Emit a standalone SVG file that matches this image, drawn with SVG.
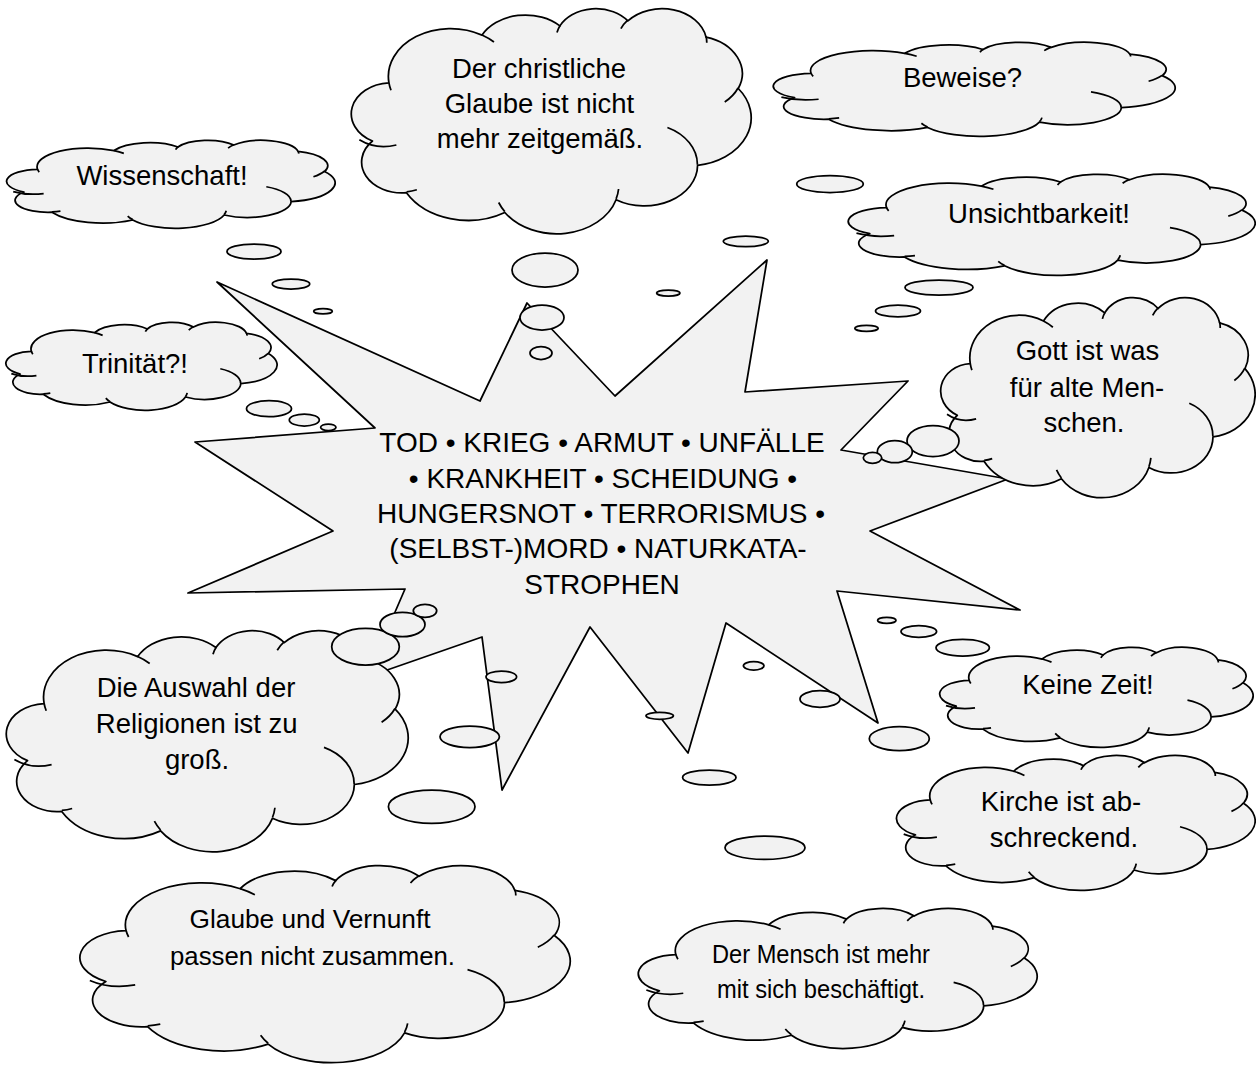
<svg xmlns="http://www.w3.org/2000/svg" xmlns:xlink="http://www.w3.org/1999/xlink" width="1256" height="1066" viewBox="0 0 1256 1066">
<style>
.f{fill:#f2f2f2;stroke:#000;stroke-width:1.75;stroke-linejoin:round}
.cl{vector-effect:non-scaling-stroke}
.in{fill:none;stroke:#000;stroke-width:1.75;vector-effect:non-scaling-stroke}
text{font-family:"Liberation Sans",Arial,sans-serif;font-size:27.5px;fill:#000;text-anchor:middle}
.star{font-size:28px}
</style>
<defs>
<g id="cloud">
<path class="f cl" d="M9.03 33.26A15.63 21.27 0 0 1 32.42 12.04A12.35 16.82 0 0 1 51.98 7.94A10.10 13.76 0 0 1 69.06 5.74A11.24 15.27 0 0 1 88.70 12.90A12.35 16.84 0 0 1 96.80 35.78A15.68 21.34 0 0 1 86.58 69.91A13.39 18.21 0 0 1 66.10 85.21A15.63 21.33 0 0 1 38.15 90.89A17.87 24.41 0 0 1 13.43 82.10A10.09 13.70 0 0 1 4.89 59.13A10.06 13.76 0 0 1 9.03 33.26Z"/>
<path class="in" d="M10.9 60.9A10.06 13.76 0 0 1 1.6 58.6M16.04 80.78A10.09 13.70 0 0 1 13.47 81.67M38.14 90.49A15.63 21.33 0 0 1 36.60 86.45M66.73 80.44A15.63 21.33 0 0 1 66.11 84.86M79.00 53.13A13.39 18.21 0 0 1 86.53 69.65M96.75 35.54A12.35 16.84 0 0 1 93.40 41.74M88.71 12.56A11.24 15.27 0 0 1 88.89 15.49M67.31 9.15A11.24 15.27 0 0 1 69.03 5.41M51.25 10.93A10.10 13.76 0 0 1 52.08 7.71M32.41 12.02A15.63 21.27 0 0 1 35.42 15.14M9.55 36.55A15.63 21.27 0 0 1 9.03 33.27"/>
</g>
</defs>
<rect width="1256" height="1066" fill="#fff"/>

<g id="star">
<polygon class="f" points="217,282 480,401 527,303 615,396 767,260 745,392 908,381 841,450 1008,479 870,531 1020,610 837,591 878,723 726,623 688,753 590,627 502,790 482,637 367,677 405,589 188,593 333,531 195,442 375,428"/>
<text class="star" x="602" y="452">TOD • KRIEG • ARMUT • UNFÄLLE</text>
<text class="star" x="603" y="488">• KRANKHEIT • SCHEIDUNG •</text>
<text class="star" x="601" y="523">HUNGERSNOT • TERRORISMUS •</text>
<text class="star" x="598" y="558">(SELBST-)MORD • NATURKATA-</text>
<text class="star" x="602" y="593.5">STROPHEN</text>
</g>

<g id="connectors"></g>

<g id="cloud-wissenschaft">
<use xlink:href="#cloud" transform="translate(8 140) scale(3.27 0.88)"/>
<ellipse class="f" cx="254" cy="251.5" rx="27" ry="7.5"/>
<ellipse class="f" cx="291" cy="284" rx="18.7" ry="5"/>
<ellipse class="f" cx="323" cy="311.3" rx="9.3" ry="2.7"/>
<text x="162" y="185">Wissenschaft!</text>
</g>

<g id="cloud-trinitaet">
<use xlink:href="#cloud" transform="translate(7 322) scale(2.70 0.88)"/>
<ellipse class="f" cx="269" cy="408.7" rx="22.5" ry="8"/>
<ellipse class="f" cx="304.3" cy="420" rx="15" ry="6"/>
<ellipse class="f" cx="328.3" cy="427.3" rx="7.7" ry="3.3"/>
<text x="135" y="373">Trinität?!</text>
</g>

<g id="cloud-christlich">
<use xlink:href="#cloud" transform="translate(353 8) scale(3.98 2.25)"/>
<ellipse class="f" cx="545" cy="270" rx="33" ry="17"/>
<ellipse class="f" cx="542" cy="317.5" rx="22" ry="12.5"/>
<ellipse class="f" cx="541" cy="353" rx="11" ry="6.5"/>
<text x="539" y="78">Der christliche</text>
<text x="539.5" y="113">Glaube ist nicht</text>
<text x="540" y="148">mehr zeitgemäß.</text>
</g>

<g id="cloud-beweise">
<use xlink:href="#cloud" transform="translate(775 42) scale(4.00 0.94)"/>
<ellipse class="f" cx="830" cy="184" rx="33.3" ry="8.5"/>
<ellipse class="f" cx="745.8" cy="241.3" rx="22.5" ry="5.3"/>
<ellipse class="f" cx="668.3" cy="293" rx="11.7" ry="3"/>
<text x="962.5" y="87">Beweise?</text>
</g>

<g id="cloud-unsichtbarkeit">
<use xlink:href="#cloud" transform="translate(850 174) scale(4.05 1.01)"/>
<ellipse class="f" cx="939" cy="287.5" rx="34" ry="7.5"/>
<ellipse class="f" cx="898" cy="311" rx="22.5" ry="5.8"/>
<ellipse class="f" cx="866.5" cy="328.3" rx="11.7" ry="3"/>
<text x="1039" y="223">Unsichtbarkeit!</text>
</g>

<g id="cloud-gott">
<use xlink:href="#cloud" transform="translate(942 297) scale(3.13 2.00)"/>
<ellipse class="f" cx="933" cy="441" rx="26" ry="15.5"/>
<ellipse class="f" cx="894.8" cy="451.7" rx="17.5" ry="11"/>
<ellipse class="f" cx="872.5" cy="457.8" rx="9.2" ry="5.5"/>
<text x="1087.5" y="360">Gott ist was</text>
<text x="1087" y="396.7">für alte Men-</text>
<text x="1084" y="431.7">schen.</text>
</g>

<g id="cloud-auswahl">
<use xlink:href="#cloud" transform="translate(8 630) scale(4.00 2.21)"/>
<ellipse class="f" cx="365.5" cy="646.7" rx="33.8" ry="18.3"/>
<ellipse class="f" cx="402.5" cy="624.5" rx="22.5" ry="12.2"/>
<ellipse class="f" cx="425" cy="610.8" rx="11.7" ry="6.5"/>
<text x="196" y="697">Die Auswahl der</text>
<text x="196.7" y="733">Religionen ist zu</text>
<text x="197" y="769">groß.</text>
</g>

<g id="cloud-vernunft">
<use xlink:href="#cloud" transform="translate(82 865) scale(4.88 1.97)"/>
<ellipse class="f" cx="431.7" cy="806.7" rx="43.3" ry="16.7"/>
<ellipse class="f" cx="469.7" cy="736.8" rx="29.7" ry="10.8"/>
<ellipse class="f" cx="501.3" cy="676.8" rx="15.3" ry="5.8"/>
<text x="310" y="928" style="font-size:26px" textLength="241" lengthAdjust="spacingAndGlyphs">Glaube und Vernunft</text>
<text x="312.5" y="965" style="font-size:26px" textLength="285" lengthAdjust="spacingAndGlyphs">passen nicht zusammen.</text>
</g>

<g id="cloud-mensch">
<use xlink:href="#cloud" transform="translate(640 908) scale(3.97 1.40)"/>
<ellipse class="f" cx="765" cy="847.7" rx="40" ry="11.7"/>
<ellipse class="f" cx="709.3" cy="777.5" rx="26.7" ry="7.5"/>
<ellipse class="f" cx="659.7" cy="715.8" rx="13.7" ry="3.5"/>
<text x="821" y="962.7" style="font-size:25.5px" textLength="218" lengthAdjust="spacingAndGlyphs">Der Mensch ist mehr</text>
<text x="821" y="998.3" style="font-size:25.5px" textLength="208" lengthAdjust="spacingAndGlyphs">mit sich beschäftigt.</text>
</g>

<g id="cloud-keinezeit">
<use xlink:href="#cloud" transform="translate(941 647) scale(3.12 1.00)"/>
<ellipse class="f" cx="962.7" cy="647.7" rx="26.7" ry="8.3"/>
<ellipse class="f" cx="918.8" cy="631.5" rx="17.8" ry="5.8"/>
<ellipse class="f" cx="886.8" cy="620.3" rx="9.2" ry="3"/>
<text x="1088" y="694">Keine Zeit!</text>
</g>

<g id="cloud-kirche">
<use xlink:href="#cloud" transform="translate(898 755) scale(3.57 1.35)"/>
<ellipse class="f" cx="899.3" cy="738.7" rx="30" ry="12"/>
<ellipse class="f" cx="820" cy="699" rx="20" ry="8.3"/>
<ellipse class="f" cx="753.7" cy="665.8" rx="10.3" ry="4.2"/>
<text x="1061" y="810.7">Kirche ist ab-</text>
<text x="1064" y="846.7">schreckend.</text>
</g>
</svg>
